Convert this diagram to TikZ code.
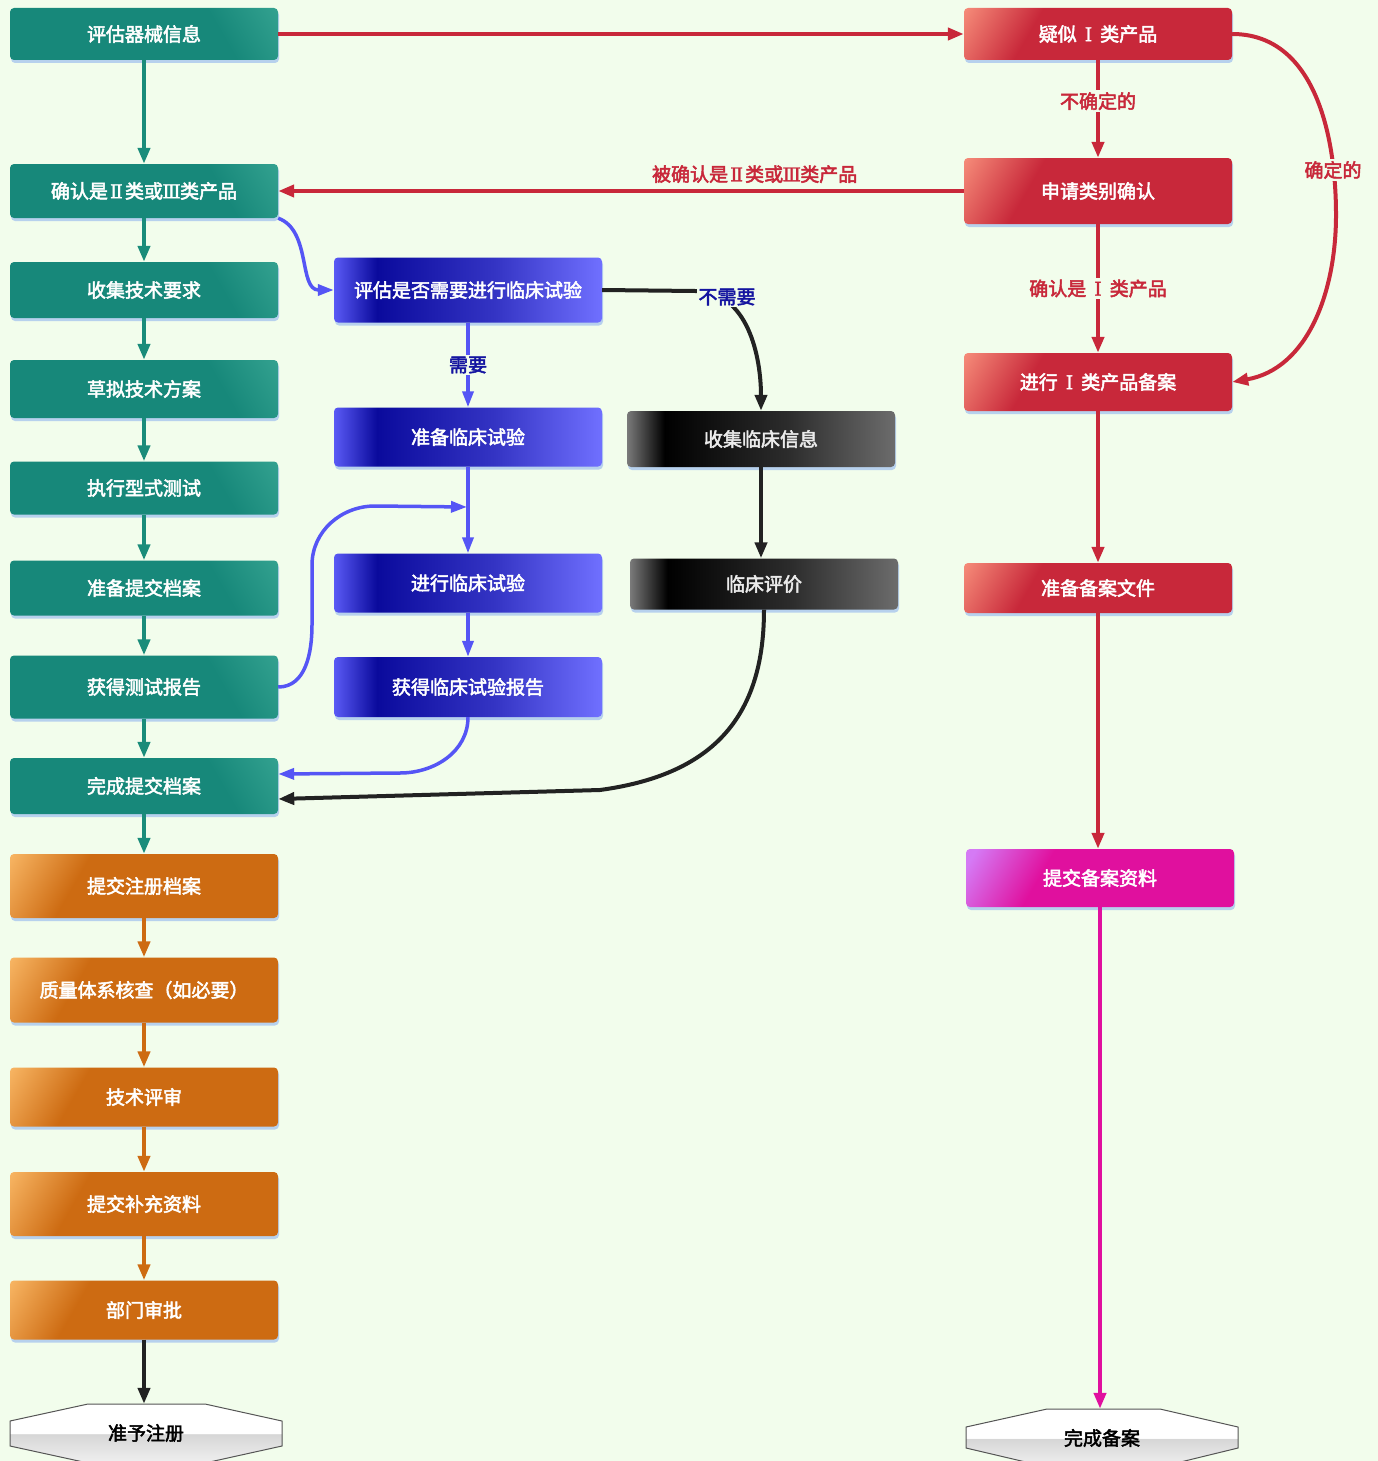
\documentclass[tikz,border=0pt]{standalone}
\usepackage{fontspec}
\newfontfamily\cjk{Noto Sans CJK SC}[FakeBold=2.6]
\newfontfamily\rom{DejaVu Serif}[FakeBold=1.5]
\newcommand{\RN}[1]{\makebox[0.9em]{\rom #1}}
\usetikzlibrary{arrows.meta,shadows}
\definecolor{bgc}{HTML}{F2FDEC}
\definecolor{gbase}{HTML}{17887A}
\definecolor{glight}{HTML}{3DAA97}
\definecolor{gline}{HTML}{1A8C7A}
\definecolor{rbase}{HTML}{C8283A}
\definecolor{rlight}{HTML}{F58A78}
\definecolor{rline}{HTML}{C8283A}
\definecolor{obase}{HTML}{CD6B12}
\definecolor{olight}{HTML}{F7B462}
\definecolor{oline}{HTML}{CD6B12}
\definecolor{mbase}{HTML}{E0109E}
\definecolor{mlight}{HTML}{D57AF5}
\definecolor{mline}{HTML}{E0109E}
\definecolor{bline}{HTML}{5555F5}
\definecolor{kline}{HTML}{222222}
\definecolor{navy}{HTML}{1414A0}
\definecolor{shadowc}{HTML}{A9C6EE}
\definecolor{hexline}{HTML}{555555}
\definecolor{bl1}{HTML}{5A5AF5}
\definecolor{bl2}{HTML}{0A0A9C}
\definecolor{bl3}{HTML}{3434C4}
\definecolor{bl4}{HTML}{7070FF}
\definecolor{k1}{HTML}{7A7A7A}
\definecolor{k2}{HTML}{000000}
\definecolor{k3}{HTML}{2C2C2C}
\definecolor{k4}{HTML}{6C6C6C}
\pgfdeclarehorizontalshading{greensh}{100bp}{color(0bp)=(gbase); color(68bp)=(gbase); color(90bp)=(glight); color(100bp)=(glight)}
\pgfdeclarehorizontalshading{redsh}{100bp}{color(0bp)=(rlight); color(16bp)=(rlight); color(34bp)=(rbase); color(100bp)=(rbase)}
\pgfdeclarehorizontalshading{orangesh}{100bp}{color(0bp)=(olight); color(16bp)=(olight); color(34bp)=(obase); color(100bp)=(obase)}
\pgfdeclarehorizontalshading{magsh}{100bp}{color(0bp)=(mlight); color(18bp)=(mlight); color(36bp)=(mbase); color(100bp)=(mbase)}
\pgfdeclarehorizontalshading{bluesh}{100bp}{color(0bp)=(bl1); color(25bp)=(bl1); color(33bp)=(bl2); color(55bp)=(bl3); color(75bp)=(bl4); color(100bp)=(bl4)}
\pgfdeclarehorizontalshading{blacksh}{100bp}{color(0bp)=(k1); color(25bp)=(k1); color(32bp)=(k2); color(55bp)=(k3); color(75bp)=(k4); color(100bp)=(k4)}
\pgfdeclareverticalshading{glossy}{100bp}{color(0bp)=(white!94!black); color(25bp)=(white!94!black); color(49.5bp)=(white!84!black); color(50bp)=(white); color(100bp)=(white)}
\begin{document}
\begin{tikzpicture}[x=1pt,y=-1pt,
  box/.style={rounded corners=4pt, minimum width=268pt, text=white, inner sep=0pt,
    font=\cjk\fontsize{19}{21}\selectfont,
    drop shadow={shadow xshift=1pt, shadow yshift=-3pt, fill=shadowc, opacity=0.8}},
  gbox/.style={box, shade, shading=greensh, shading angle=30},
  rbox/.style={box, shade, shading=redsh, shading angle=-30},
  obox/.style={box, shade, shading=orangesh, shading angle=-30},
  mbox/.style={box, shade, shading=magsh, shading angle=-30},
  bbox/.style={box, shade, shading=bluesh},
  kbox/.style={box, shade, shading=blacksh, text=white!92!black},
  hext/.style={minimum width=272pt, inner sep=0pt, text=black,
    font=\cjk\fontsize{19}{21}\selectfont},
  lbl/.style={font=\cjk\fontsize{19}{21}\selectfont, fill=bgc, inner sep=2pt},
  tip/.style={-{Triangle[length=16pt,width=12pt]}},
  garr/.style={draw=gline, line width=4pt, tip},
  rarr/.style={draw=rline, line width=4pt, tip},
  oarr/.style={draw=oline, line width=4pt, tip},
  marr/.style={draw=mline, line width=4pt, tip},
  barr/.style={draw=bline, line width=3.5pt, -{Triangle[length=16pt,width=11pt]}},
  karr/.style={draw=kline, line width=4pt, tip}
]
\fill[bgc] (0,0) rectangle (1378,1461);
\useasboundingbox (0,0) rectangle (1378,1461);

% green column
\node[gbox, minimum height=52pt] (n1) at (144,34) {评估器械信息};
\node[gbox, minimum height=54pt] (n2) at (144,191) {确认是\RN{Ⅱ}类或\RN{Ⅲ}类产品};
\node[gbox, minimum height=56pt] (n3) at (144,290) {收集技术要求};
\node[gbox, minimum height=58pt] (n4) at (144,389) {草拟技术方案};
\node[gbox, minimum height=53pt] (n5) at (144,488) {执行型式测试};
\node[gbox, minimum height=55pt] (n6) at (144,588) {准备提交档案};
\node[gbox, minimum height=63pt] (n7) at (144,687) {获得测试报告};
\node[gbox, minimum height=56pt] (n8) at (144,786) {完成提交档案};
% orange
\node[obox, minimum height=64pt] (o1) at (144,886) {提交注册档案};
\node[obox, minimum height=65pt] (o2) at (144,990) {质量体系核查（如必要）};
\node[obox, minimum height=59pt] (o3) at (144,1097) {技术评审};
\node[obox, minimum height=64pt] (o4) at (144,1204) {提交补充资料};
\node[obox, minimum height=59pt] (o5) at (144,1310) {部门审批};
% blue
\node[bbox, minimum height=65pt] (b1) at (468,290) {评估是否需要进行临床试验};
\node[bbox, minimum height=59pt] (b2) at (468,437) {准备临床试验};
\node[bbox, minimum height=59pt] (b3) at (468,583) {进行临床试验};
\node[bbox, minimum height=60pt] (b4) at (468,687) {获得临床试验报告};
% black
\node[kbox, minimum height=56pt] (c1) at (761,439) {收集临床信息};
\node[kbox, minimum height=51pt] (c2) at (764,584) {临床评价};
% red
\node[rbox, minimum height=52pt] (r1) at (1098,34) {疑似\,\RN{Ⅰ}\,类产品};
\node[rbox, minimum height=66pt] (r2) at (1098,191) {申请类别确认};
\node[rbox, minimum height=58pt] (r3) at (1098,382) {进行\,\RN{Ⅰ}\,类产品备案};
\node[rbox, minimum height=50pt] (r4) at (1098,588) {准备备案文件};
\node[mbox, minimum height=58pt] (m1) at (1100,878) {提交备案资料};

% end shapes
\draw[draw=hexline, line width=1pt, shade, shading=glossy] (88,1404) -- (205,1404) -- (282,1421) -- (282,1446) -- (205,1463) -- (88,1463) -- (10,1446) -- (10,1421) -- cycle;
\node[hext, minimum height=58pt] (e1) at (146,1433) {准予注册};
\draw[draw=hexline, line width=1pt, shade, shading=glossy] (1047,1409) -- (1160,1409) -- (1238,1427) -- (1238,1448) -- (1160,1467) -- (1047,1467) -- (966,1448) -- (966,1427) -- cycle;
\node[hext, minimum height=58pt] (e2) at (1102,1438) {完成备案};

% green chain
\draw[garr] (n1) -- (n2);
\draw[garr] (n2) -- (n3);
\draw[garr] (n3) -- (n4);
\draw[garr] (n4) -- (n5);
\draw[garr] (n5) -- (n6);
\draw[garr] (n6) -- (n7);
\draw[garr] (n7) -- (n8);
\draw[garr] (n8) -- (o1);
% orange chain
\draw[oarr] (o1) -- (o2);
\draw[oarr] (o2) -- (o3);
\draw[oarr] (o3) -- (o4);
\draw[oarr] (o4) -- (o5);
\draw[karr] (o5.south) -- (o5.south |- e1.north);

% red
\draw[rarr] (n1.east) -- (r1.west);
\draw[rarr] (r1) -- node[lbl, text=rline, pos=0.42] (l1) {不确定的} (r2);
\draw[rarr] (r2.west) -- node[lbl, text=rline, pos=0.305, above=4pt, fill=none] (l2) {被确认是\RN{Ⅱ}类或\RN{Ⅲ}类产品} (n2.east);
\draw[rarr] (r2) -- node[lbl, text=rline] (l3) {确认是\,\RN{Ⅰ}\,类产品} (r3);
\draw[rarr] (r1.east) to[out=0,in=90] (1336,215) to[out=-90,in=10] (r3.east);
\node[lbl, text=rline] (l4) at (1333,170) {确定的};
\draw[rarr] (r3) -- (r4);
\draw[rarr] (r4.south) -- (r4.south |- m1.north);
\draw[marr] (m1.south) -- (m1.south |- e2.north);

% blue
\draw[barr] (n2.south east) to[out=-20,in=180] (b1.west);
\draw[barr] (b1) -- node[lbl, text=navy] (l5) {需要} (b2);
\draw[barr] (b2) -- (b3);
\draw[barr] (b3) -- (b4);
\coordinate (j) at (468,507);
\draw[barr, shorten >=1pt] (n7.east) to[out=0,in=-90] (312,625) -- (312,565) to[out=90,in=180] (375,506) -- (j);
\draw[barr] (b4.south) to[out=-90,in=0] (400,773) -- ([yshift=12pt]n8.east);

% black
\draw[karr] (b1.east) -- (695,291) to[out=0,in=90] (c1.north);
\node[lbl, text=navy] (l6) at (727,297) {不需要};
\draw[karr] (c1.south) -- (c1.south |- c2.north);
\draw[karr] (c2.south) .. controls (764,720) and (710,775) .. (600,790) -- ([yshift=-13pt]n8.east);
\end{tikzpicture}
\end{document}
